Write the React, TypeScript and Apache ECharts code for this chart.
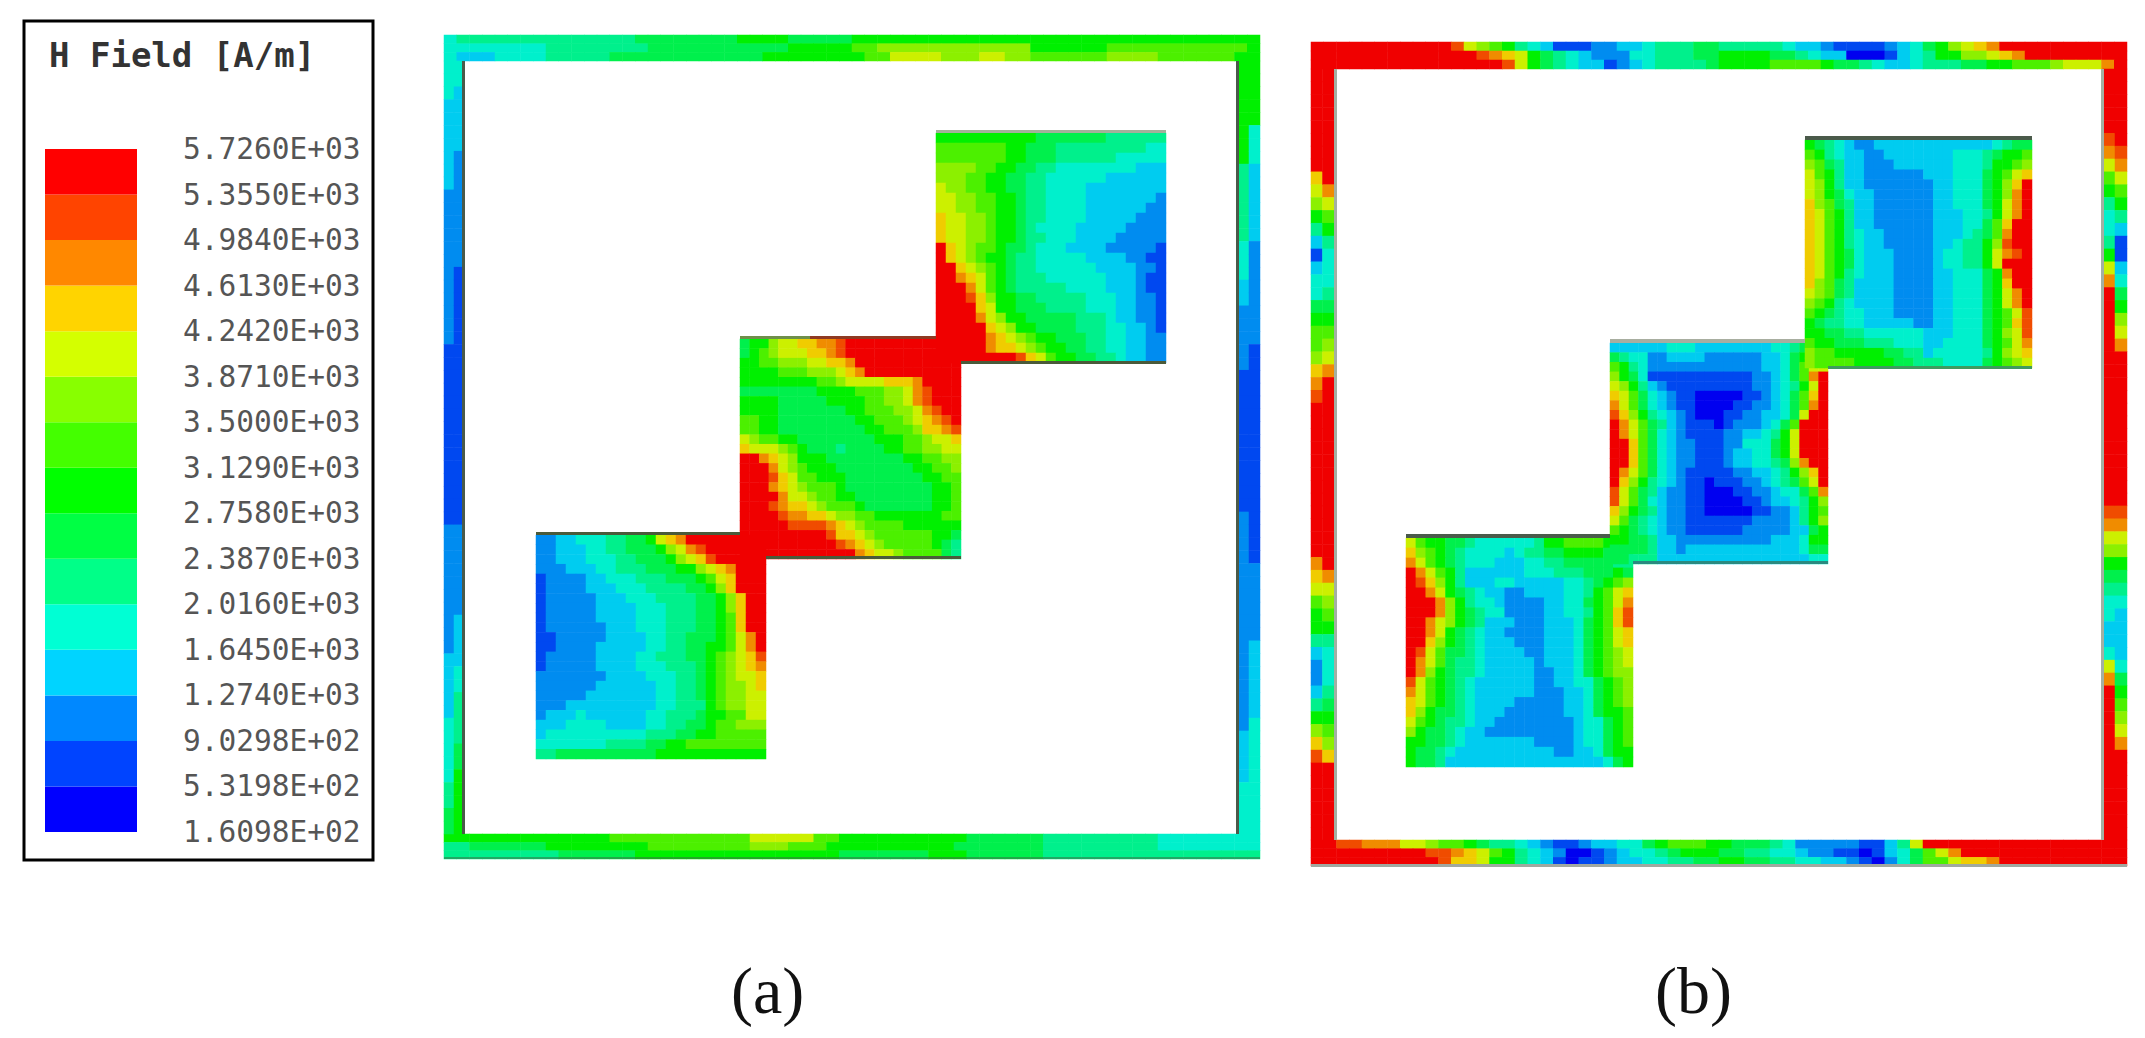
import React, { useEffect, useRef } from "react";
import * as echarts from "echarts";

// Band levels, 0 (lowest) to e (highest), one character per cell.
const TICK_LABELS = [
  "1.6098E+02", "5.3198E+02", "9.0298E+02", "1.2740E+03", "1.6450E+03", "2.0160E+03",
  "2.3870E+03", "2.7580E+03", "3.1290E+03", "3.5000E+03", "3.8710E+03", "4.2420E+03",
  "4.6130E+03", "4.9840E+03", "5.3550E+03", "5.7260E+03",
];
const LEGEND_COLORS = [
  "#0000ff", "#0044ff", "#0088ff", "#00d4ff", "#00ffd4", "#00ff88", "#00ff44", "#00ff00",
  "#44ff00", "#88ff00", "#d4ff00", "#ffd400", "#ff8800", "#ff4400", "#ff0000",
];
const FIELD_COLORS = [
  "#0000f0", "#0048f0", "#008cf0", "#00ccf0", "#00f0cc", "#00f08c", "#00f04c", "#00f000",
  "#4cf000", "#8cf000", "#ccf000", "#f0cc00", "#f08c00", "#f04c00", "#f00000",
];

const aTopRight = [
  "77777777776666666555555", "88888887766655555555544", "88888887766655555544444", "99998877665544444444333",
  "99988776655444444333333", "a9988776655444433333333", "aa998877655444433333332", "aa998877655444433333322",
  "baa99877655444433333222", "baa99877654444333332222", "baa99877655444333322222", "eba98876654443333222221",
  "eba98776554444433332211", "eeba9876554444443333221", "eecba876555444444333211", "eeeca876555554444333211",
  "eeedb977665555544433221", "eeeeba77666555544433221", "eeeeca97766666555433221", "eeeeeba9776666555443321",
  "eeeeecba987766655443322", "eeeeecbba98776655443322", "eeeeeeeedba877665543322",
];
const aMiddle = [
  "6779aabbccdeeeeeeeeeeee", "6789aaabbcdeeeeeeeeeeee", "7788999aabbceeeeeeeeeee", "7777888999abceeeeeeeeee",
  "77777777889aaaabbbceeee", "66666666777788899acdeee", "77776666677778899acdeee", "777766666667788899acdee",
  "887766666666778889abcde", "8877666666666778889bbcd", "a9887766666666777889aab", "baaa98766656666778899aa",
  "eecba977766666666778899", "eeeca987776666666677889", "eeedba88777666666667788", "eeecba98887666666666778",
  "eeeecaa9887766666666778", "eeedcbba988876666666778", "eeeedccbba9988777777788", "eeeeeddddcba98888777777",
  "eeeeeeeeedbba9888888776", "eeeeeeeeeedcba988888765", "eeeeeeeeeeeecbaa9888865",
];
const aLowerLeft = [
  "223344455667abceeeeeeee", "22333445566679acdeeeeee", "223334445566679abdeeeee", "22233344555666779abceee",
  "122223344455566678abeee", "1222233344455556679beee", "12222233344455556679bee", "12222233334445556679bee",
  "12222233334445556678bee", "12222223334445556678bee", "11222223333445566678ace", "11222233333445566778ace",
  "12222233334455566789abd", "12222233334445556789abc", "22222223333444556789aab", "222222333333445567899ab",
  "222223333333445567899aa", "222333333333445557899aa", "233343333334455567788aa", "33344443333445566788999",
  "34444444444555667788888", "44444445555667788888888", "55666666666677777777777",
];
const bTopRight = [
  "76543223333333333334566", "87543322333333344456778", "98653322233333344457789", "a87533222222333444678ab",
  "a97533222222233444679be", "a97643322222233444679ce", "b9865332222223344467ace", "ba875332222223334457ace",
  "ba875332222223334468bee", "ba875433222223334568cee", "ba875433222223345579dee", "ba87643332222344557acde",
  "ba87643332222344557aeee", "ba875433322223344467cee", "b9865333322223344467bee", "a9865333322223344467ace",
  "98754333322223344467ace", "876544333222233444678ad", "765544333332233444678bd", "776655444444333444679ad",
  "877666555444334444678ac", "988777776655344444579ab", "9888877776655544446789a",
];
const bMiddle = [
  "33333344433333333445677", "65442233332222223346788", "875422222222222233468aa", "976411111111111223468ce",
  "a97532111111111223457ae", "ba8643211000001123468be", "ca8643211000011223468ce", "db975432100011223346aee",
  "eca86532111012223468eee", "eca8643211112233457aeee", "eeb8643221112244467aeee", "eeb8643221112334467aeee",
  "eeb86432211123344569cee", "eca864321111122334579be", "eb9754321101112234568ae", "da86532211000112234468c",
  "da864322110000112334579", "b9765322110000011223578", "a8654322111111122223579", "87654322111111222223367",
  "77665332222222222333477", "66665332333333333333466", "66555333333333333333344",
];
const bLowerLeft = [
  "a8776654444445778888776", "b9876544443455667777665", "ca876544433344556666655", "eca87533333344455566676",
  "edb97533344333334456789", "eeca76543322333344578ab", "eeec97544322223344678ac", "eeec97654422223344578bd",
  "eeca97653332223334678bd", "eeca76543322223334678ab", "eeb976543332223334678ab", "eda8665433332233346789a",
  "eca8655433333233346789a", "ec976554333332233467899", "da876543333332233446789", "ca876543333332223346789",
  "ba876543333222223346789", "b9766543332222223346778", "a8765543322222222344678", "97665433222222222344678",
  "77665433333332222344678", "76654333333333322334677", "76653333333333333333467",
];

const aFrameTop = [
  "4" + "55555555555555" + "66666666" + "7777" + "66666" + "77777777777777777777777777777777",
  "44444444" + "55555555" + "66666666666" + "77777" + "88" + "999999999999" + "777777" + "88888888888" + "7",
  "4" + "333" + "4444" + "55555" + "666666666666" + "77777777" + "88" + "aaaa" + "999" + "aa" + "99" + "888888" + "9999" + "888888" + "77",
];
const aFrameBottom = [
  "7777777777777" + "88888888888" + "aaaaa" + "88" + "7777777777" + "666666" + "555555555" + "44444444",
  "55" + "666666" + "77777777" + "88888888" + "999" + "888" + "7777777777" + "6666666" + "555555555" + "44444444",
  "555555555" + "666666" + "7777777777777777" + "6666666" + "777" + "666666" + "55555555555555555",
];
const aFrameLeft = [
  "444" + "3333333" + "222222222222" + "11111111111111" + "2222222222" + "33333" + "44444" + "55" + "66",
  "44" + "33333" + "222222222" + "11111111111111111111" + "2222222" + "3333" + "44" + "5555" + "66" + "77777",
];
const aFrameRight = [
  "77777777" + "555555" + "444" + "33" + "22222" + "11111111111" + "22222222222222222" + "3333" + "4444",
  "77777" + "444" + "333333" + "22222222" + "11111111111111111" + "222222" + "333333" + "444444444",
];

const bFrameTop = [
  "eeeeeeeeeee" + "da987543" + "111" + "22" + "33" + "4" + "555" + "66" + "55555" + "4" + "33" + "2" + "1111" + "234679abc" + "eeeeeeeeee",
  "eeeeeeeeeeeee" + "dcba76543" + "222" + "44" + "555" + "66" + "7777" + "66" + "5" + "4" + "33" + "000" + "1" + "3" + "4" + "5" + "77" + "99" + "a" + "b" + "c" + "eeeeeeee",
  "eeeeeeeeeeeeeee" + "da7654" + "33" + "1" + "2" + "3" + "4" + "5555" + "6" + "7777" + "8888" + "7" + "66" + "5" + "4" + "33" + "4" + "555" + "66" + "77" + "888" + "9" + "aaa" + "c" + "e",
];
const bFrameBottom = [
  "ee" + "dd" + "ccc" + "aa" + "9" + "88" + "7" + "6" + "55" + "4" + "3" + "2" + "11" + "2" + "33" + "44" + "6" + "7" + "888" + "77" + "666" + "5" + "4" + "22222" + "11" + "3" + "5" + "a" + "eeeeeeeeeeeeeeee",
  "eeeeeeeee" + "dd" + "c" + "b" + "a" + "8" + "7" + "5" + "4" + "3" + "2" + "00" + "1" + "2" + "3" + "44" + "5" + "6" + "777" + "66" + "55" + "44" + "3" + "22" + "11" + "0" + "1" + "3" + "4" + "6" + "8" + "a" + "c" + "eeeeeeeeeeeee",
  "eeeeeeeeee" + "d" + "bb" + "a" + "77" + "5" + "4" + "3" + "1" + "0" + "11" + "2" + "33" + "44" + "55" + "66" + "77" + "66" + "55" + "44" + "33" + "2" + "1" + "0" + "2" + "4" + "6" + "88" + "a" + "bb" + "c" + "eeeeeeeeee",
];
const bFrameLeft = [
  "eeeeeeee" + "b" + "a" + "9" + "7" + "5" + "3" + "1" + "3" + "44" + "67" + "88" + "9" + "b" + "c" + "d" + "eeeeeeeeeeee" + "c" + "b" + "a" + "8" + "77" + "5" + "3" + "22" + "3" + "5" + "7" + "9" + "b" + "d" + "eeeeee",
  "eeeeeeeee" + "c" + "a" + "8" + "7" + "5" + "444" + "5" + "6" + "7" + "8" + "9" + "a" + "c" + "eeeeeeeeeeeeeee" + "c" + "a" + "9" + "8" + "7" + "5" + "444" + "5" + "6" + "7" + "8" + "9" + "b" + "eeeeee",
];
const bFrameRight = [
  "eeeee" + "d" + "c" + "a" + "8" + "7" + "5" + "44" + "5" + "7" + "a" + "c" + "eeeeeeeeeeeeeeeee" + "d" + "c" + "a" + "9" + "7" + "6" + "5" + "44" + "33" + "4" + "a" + "c" + "eeeeeeeeeeee",
  "eeeeee" + "d" + "c" + "a" + "8" + "7" + "5" + "3" + "11" + "3" + "4" + "6" + "7" + "9" + "a" + "c" + "eeeeeeeeeeee" + "d" + "c" + "a" + "9" + "7" + "6" + "5" + "4" + "3333" + "4" + "6" + "7" + "8" + "9" + "a" + "c" + "eeeeeee",
];

type Field = { rows: string[]; box: number[]; byColumn?: boolean };

const FIELDS: Field[] = [
  { rows: aFrameTop, box: [444, 35, 816, 26] },
  { rows: aFrameBottom, box: [444, 834, 816, 25] },
  { rows: aFrameLeft, box: [444, 61, 20, 773], byColumn: true },
  { rows: aFrameRight, box: [1238, 61, 22, 773], byColumn: true },
  { rows: aLowerLeft, box: [536, 535, 230, 224] },
  { rows: aMiddle, box: [740, 339, 221, 220] },
  { rows: aTopRight, box: [936, 133, 230, 230] },
  { rows: bFrameTop, box: [1311, 42, 816, 27] },
  { rows: bFrameBottom, box: [1311, 840, 816, 26] },
  { rows: bFrameLeft, box: [1311, 69, 23, 771], byColumn: true },
  { rows: bFrameRight, box: [2103, 69, 24, 771], byColumn: true },
  { rows: bLowerLeft, box: [1406, 538, 227, 229] },
  { rows: bMiddle, box: [1610, 343, 218, 221] },
  { rows: bTopRight, box: [1805, 140, 227, 228] },
];

const EDGES: [number, number, number, number, string][] = [
  [462, 61, 3, 773, "#4a5a4a"], [1236, 61, 3, 773, "#4a5a4a"],
  [936, 130, 230, 3, "#a3b09a"], [961, 361, 205, 3, "#4a5a3a"],
  [740, 336, 70, 3, "#6f8f4a"], [810, 336, 126, 3, "#8f3a22"],
  [766, 556, 195, 3, "#4a5a3a"], [536, 532, 204, 3, "#4a5a3a"],
  [444, 857, 816, 2, "rgba(60,110,70,0.55)"],
  [1334, 69, 3, 771, "#a3b0a3"], [2101, 69, 3, 771, "#a3b0a3"],
  [1805, 136, 227, 4, "#4a5a4a"], [1828, 366, 204, 3, "#3f9a5f"],
  [1610, 339, 195, 4, "#a8aea0"], [1633, 561, 195, 3, "#2a8a80"],
  [1406, 534, 204, 4, "#4a5a4a"], [1311, 864, 816, 3, "#a0a8a0"],
];

function buildOption() {
  const grids: any[] = [];
  const xAxes: any[] = [];
  const yAxes: any[] = [];
  const series: any[] = [];

  FIELDS.forEach((f, i) => {
    const major = f.rows.length;
    const minor = Math.max(...f.rows.map((r) => r.length));
    const nCols = f.byColumn ? major : minor;
    const nRows = f.byColumn ? minor : major;
    const data: number[][] = [];
    f.rows.forEach((line, a) => {
      line.split("").forEach((ch, b) => {
        const level = parseInt(ch, 16);
        data.push(f.byColumn ? [a, b, level] : [b, a, level]);
      });
    });
    grids.push({ left: f.box[0], top: f.box[1], width: f.box[2], height: f.box[3], show: false });
    xAxes.push({ type: "category", gridIndex: i, show: false, data: Array.from({ length: nCols }, (_, k) => k) });
    yAxes.push({ type: "category", gridIndex: i, show: false, inverse: true, data: Array.from({ length: nRows }, (_, k) => k) });
    series.push({ type: "heatmap", xAxisIndex: i, yAxisIndex: i, data, silent: true, progressive: 0 });
  });

  const heatmapCount = series.length;
  const li = FIELDS.length;
  grids.push({ left: 45, top: 149, width: 92, height: 683, show: false });
  xAxes.push({ type: "category", gridIndex: li, show: false, data: ["H"] });
  yAxes.push({
    type: "value",
    gridIndex: li,
    position: "right",
    min: 0,
    max: 15,
    interval: 1,
    axisLine: { show: false },
    axisTick: { show: false },
    splitLine: { show: false },
    axisLabel: {
      show: true,
      margin: 46,
      color: "#555",
      fontFamily: "DejaVu Sans Mono",
      fontSize: 29.5,
      formatter: (v: number) => TICK_LABELS[v],
    },
  });
  LEGEND_COLORS.forEach((c) => {
    series.push({
      type: "bar",
      xAxisIndex: li,
      yAxisIndex: li,
      stack: "bands",
      data: [1],
      barWidth: "100%",
      itemStyle: { color: c },
      silent: true,
    });
  });

  return {
    animation: false,
    backgroundColor: "#ffffff",
    title: [
      { text: "H Field [A/m]", left: 44, top: 33, textStyle: { fontFamily: "DejaVu Sans Mono", fontSize: 34, fontWeight: "bold", color: "#333" } },
      { text: "(a)", left: 726, top: 952, textStyle: { fontFamily: "Liberation Serif", fontSize: 66, fontWeight: "normal", color: "#111" } },
      { text: "(b)", left: 1650, top: 952, textStyle: { fontFamily: "Liberation Serif", fontSize: 66, fontWeight: "normal", color: "#111" } },
    ],
    grid: grids,
    xAxis: xAxes,
    yAxis: yAxes,
    visualMap: {
      show: false,
      type: "piecewise",
      dimension: 2,
      seriesIndex: Array.from({ length: heatmapCount }, (_, k) => k),
      pieces: FIELD_COLORS.map((color, value) => ({ value, color })),
    },
    series,
    graphic: [
      { type: "rect", z: 50, shape: { x: 24, y: 21, width: 349, height: 839 }, style: { fill: "none", stroke: "#000", lineWidth: 3 } },
      ...EDGES.map(([x, y, width, height, fill]) => ({ type: "rect", z: 60, shape: { x, y, width, height }, style: { fill } })),
    ],
  };
}

export default function App() {
  const ref = useRef<HTMLDivElement>(null);
  useEffect(() => {
    const chart = echarts.init(ref.current!, undefined, { renderer: "svg" });
    chart.setOption(buildOption() as any);
    return () => chart.dispose();
  }, []);
  return <div ref={ref} style={{ position: "fixed", left: 0, top: 0, width: 2145, height: 1038 }} />;
}
